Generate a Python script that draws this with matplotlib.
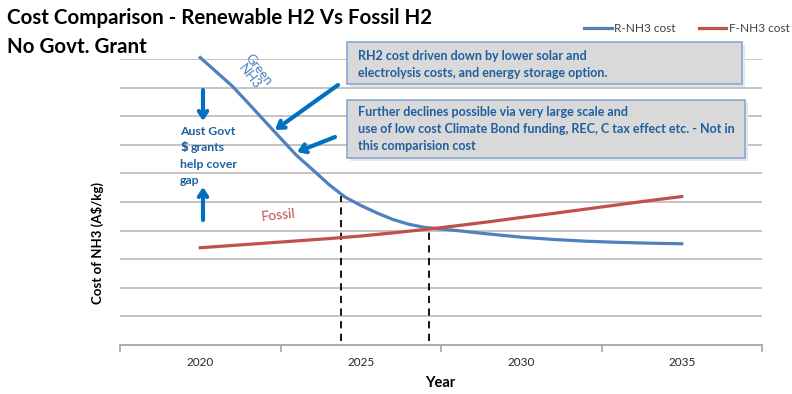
import numpy as np
import matplotlib
matplotlib.use("Agg")
import matplotlib.pyplot as plt
from matplotlib.patches import Rectangle

# ---------------------------------------------
#  DATA
# ---------------------------------------------
r_years = [2020, 2020.5, 2021, 2021.5, 2022, 2022.5, 2023, 2023.5, 2024, 2024.5,
           2025, 2025.5, 2026, 2026.5, 2027, 2028, 2029, 2030, 2031, 2032,
           2033, 2034, 2035]
r_nh3 = [10.05, 9.55, 9.05, 8.45, 7.84, 7.23, 6.63, 6.13, 5.62, 5.18,
         4.88, 4.62, 4.39, 4.22, 4.11, 4.00, 3.88, 3.77, 3.69, 3.63,
         3.59, 3.56, 3.54]
f_years = [2020, 2021, 2022, 2023, 2024, 2025, 2026, 2027,
           2028, 2029, 2030, 2031, 2032, 2033, 2034, 2035]
f_nh3 = [3.40, 3.48, 3.56, 3.64, 3.72, 3.81, 3.92, 4.04,
         4.17, 4.31, 4.46, 4.60, 4.75, 4.90, 5.05, 5.19]
tick_years = [2020, 2025, 2030, 2035]
# vertical markers: (year, top value)
markers_x = [2024.38, 2027.13]
markers_top = [5.22, 4.13]

C_BLUE = "#4F81BD"
C_RED = "#C0504D"
C_ARROW = "#0070C0"
C_TXT = "#1F5F9F"

W, H = 792, 394
plt.rcParams["font.family"] = ["Lato", "DejaVu Sans"]

fig = plt.figure(figsize=(W / 100, H / 100), dpi=100)
fig.patch.set_facecolor("white")

def fx(x):
    return x / W

def fy(y):
    return 1 - y / H

ax = fig.add_axes([fx(120), fy(345), fx(762) - fx(120), fy(59) - fy(345)])
ax.set_xlim(2017.5, 2037.5)
ax.set_ylim(0, 10)

for v in range(1, 11):
    ax.axhline(v, color="#BFBFBF", lw=1.3, zorder=1)

ax.plot(r_years, r_nh3, color=C_BLUE, lw=2.3, zorder=4, clip_on=False, label="R-NH3 cost")
ax.plot(f_years, f_nh3, color=C_RED, lw=2.3, zorder=4, clip_on=False, label="F-NH3 cost")

for xm, top in zip(markers_x, markers_top):
    ax.plot([xm, xm], [0.15, top], color="black", lw=1.3, ls=(0, (4, 3)), zorder=3)

for s in ["top", "right", "left"]:
    ax.spines[s].set_visible(False)
ax.spines["bottom"].set_color("#A6A6A6")
ax.spines["bottom"].set_linewidth(1.3)
ax.set_yticks([])
ax.set_xticks(np.arange(2017.5, 2038, 5))
ax.set_xticklabels([])
ax.tick_params(axis="x", which="major", length=5, color="#A6A6A6", width=1.2)
ax.set_xticks(tick_years, minor=True)
ax.set_xticklabels([str(y) for y in tick_years], minor=True)
ax.tick_params(axis="x", which="minor", length=0, labelsize=8.5, pad=9, labelcolor="#262626")

# legend
leg = ax.legend(loc="upper right", bbox_to_anchor=(fx(794), fy(18)), bbox_transform=fig.transFigure,
                ncol=2, frameon=False, fontsize=8.5, handlelength=2.3, handletextpad=0.2,
                columnspacing=2.0, borderaxespad=0)
for t in leg.get_texts():
    t.set_color("#404040")

# titles
fig.text(fx(7), fy(18), "Cost Comparison - Renewable H2 Vs Fossil H2", fontsize=14.8,
         fontweight="bold", va="center", ha="left")
fig.text(fx(7), fy(47), "No Govt. Grant", fontsize=14.8, fontweight="bold", va="center", ha="left")

fig.text(fx(97), fy(243), "Cost of NH3 (A$/kg)", rotation=90, fontsize=9.5, fontweight="bold",
         va="center", ha="center")
fig.text(fx(440), fy(383), "Year", fontsize=10.5, fontweight="bold", va="center", ha="center")

# boxes
def box(x0, y0, x1, y1, lines, ys):
    shadow = Rectangle((fx(x0 + 3), fy(y1 + 3)), fx(x1) - fx(x0), fy(y0) - fy(y1),
                       transform=fig.transFigure, facecolor="#E6E6E6", edgecolor="none", zorder=5)
    rect = Rectangle((fx(x0), fy(y1)), fx(x1) - fx(x0), fy(y0) - fy(y1),
                     transform=fig.transFigure, facecolor="#D9D9D9", edgecolor="#7FA3D0",
                     lw=1.1, zorder=6)
    fig.patches.extend([shadow, rect])
    for ln, yy in zip(lines, ys):
        fig.text(fx(x0 + 11), fy(yy), ln, fontsize=9, fontweight="bold", color=C_TXT,
                 va="center", ha="left", zorder=7)

box(347, 42, 742, 84,
    ["RH2 cost driven down by lower solar and",
     "electrolysis costs, and energy storage option."],
    [56, 72.7])
box(347, 100, 745, 158,
    ["Further declines possible via very large scale and",
     "use of low cost Climate Bond funding, REC, C tax effect etc. - Not in",
     "this comparision cost"],
    [112.3, 129, 145.7])

# annotations: "Aust Govt $ grants help cover gap"
gap_kw = dict(fontsize=8.8, fontweight="bold", color=C_TXT, va="center", ha="left")
fig.text(fx(180), fy(131.7), "Aust Govt", **gap_kw)
fig.text(fx(180), fy(147.7), "$", **{**gap_kw, "family": "DejaVu Sans", "fontsize": 8.3})
fig.text(fx(190.5), fy(147.7), "grants", **gap_kw)
fig.text(fx(180), fy(164), "help cover", **gap_kw)
fig.text(fx(180), fy(180), "gap", **gap_kw)

fig.text(fx(254), fy(73), "Green\nNH3", rotation=-52, fontsize=9.5, color=C_BLUE,
         va="center", ha="center", linespacing=1.0, rotation_mode="anchor")
fig.text(fx(278), fy(215), "Fossil", rotation=6, fontsize=10, color=C_RED, va="center", ha="center")

aprops = dict(arrowstyle="->, head_length=0.45, head_width=0.3", lw=3, color=C_ARROW,
              shrinkA=0, shrinkB=0)
arrows = [((338, 85), (275, 130)), ((335, 137), (297, 152)),
          ((203, 90), (203, 121)), ((203, 220), (203, 187))]
for (x0, y0), (x1, y1) in arrows:
    ax.annotate("", xy=(fx(x1), fy(y1)), xytext=(fx(x0), fy(y0)),
                xycoords="figure fraction", textcoords="figure fraction",
                arrowprops=aprops, annotation_clip=False, zorder=8)

fig.savefig("out.png", dpi=100, facecolor="white")
